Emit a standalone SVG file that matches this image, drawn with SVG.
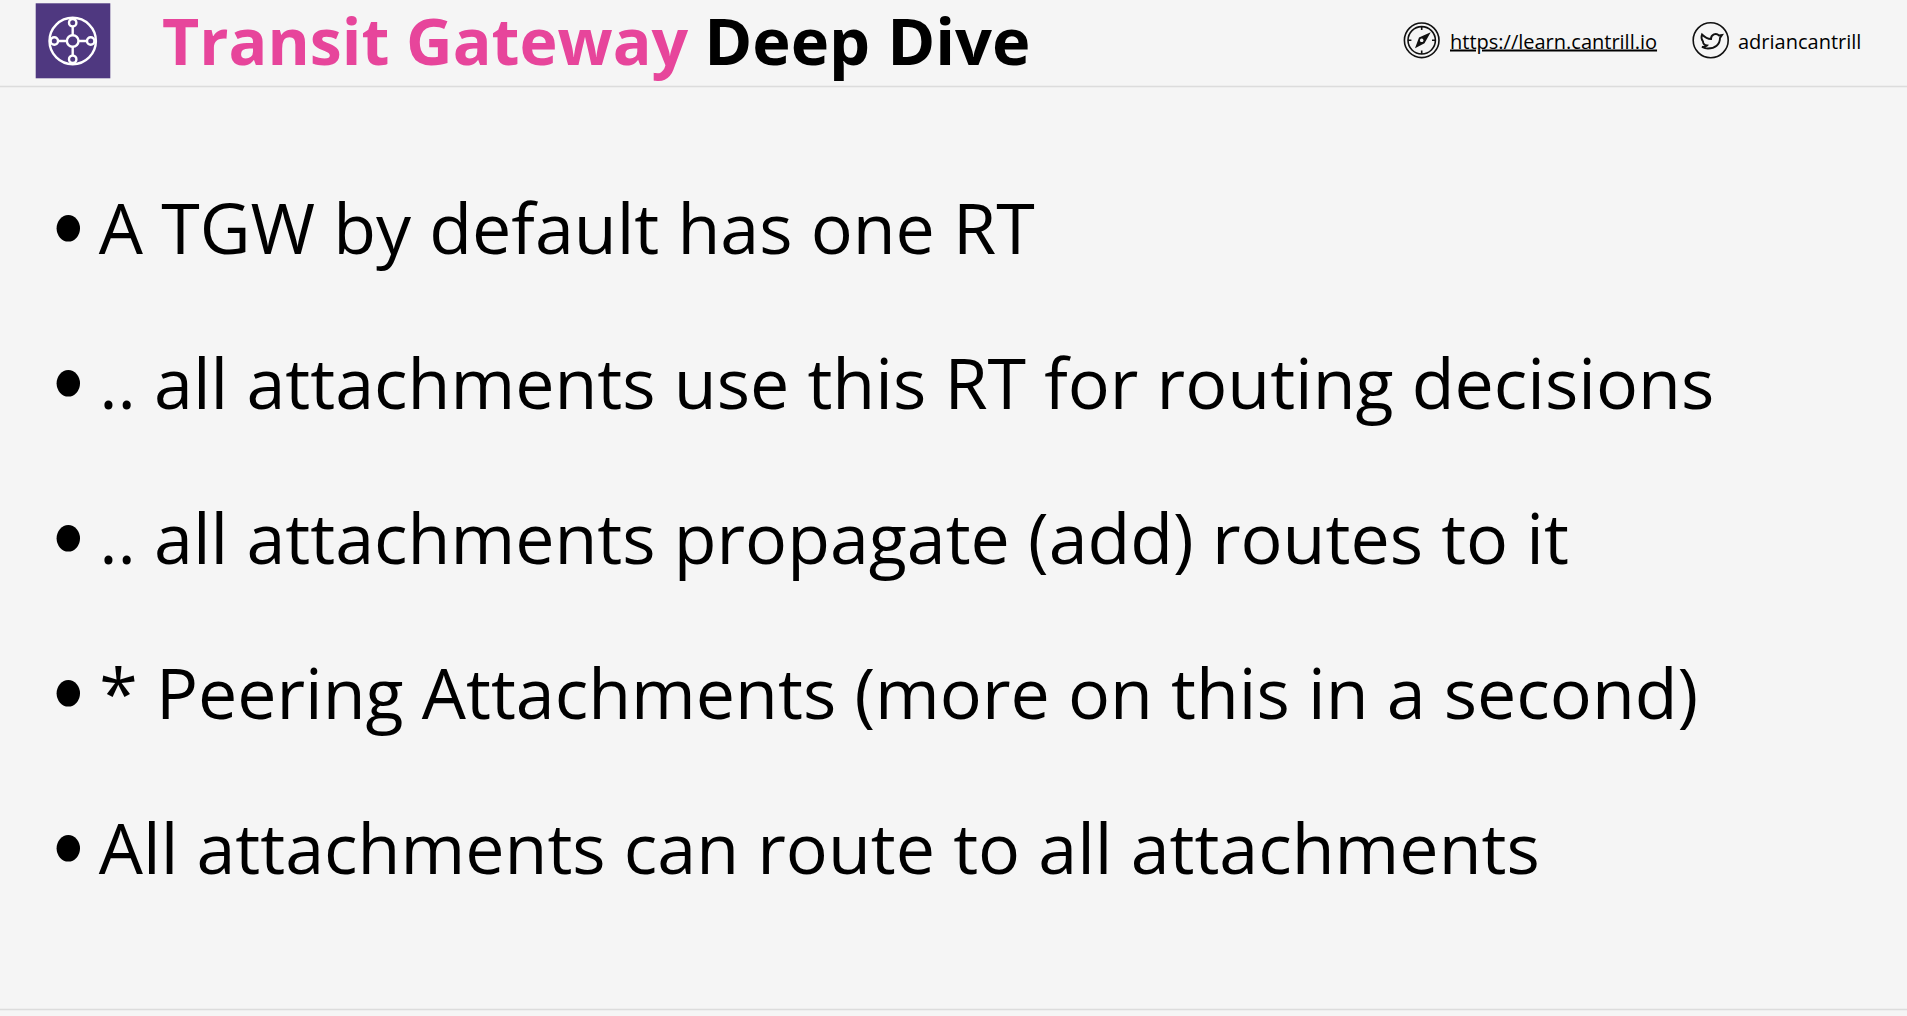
<svg xmlns="http://www.w3.org/2000/svg" width="1907" height="1016" viewBox="0 0 1907 1016">
<style>
text{font-family:"Open Sans","Noto Sans",sans-serif;fill:#000}
.b{font-size:69.95px}
.t{font-size:65px;font-weight:700}
.s{font-size:20px}
.w{fill:none;stroke:#fff;stroke-width:2.4}
.k{fill:none;stroke:#111;stroke-width:1.6}
.r{fill:none;stroke:#dcdcdc;stroke-width:1.6}
</style>
<rect width="1907" height="1016" fill="#f5f5f5"/>
<g id="header-rules"><line class="r" x1="0" y1="86.500" x2="1907" y2="86.500"/><line class="r" x1="0" y1="1009.500" x2="1907" y2="1009.500"/></g>
<g id="logo"><rect x="35.700" y="3.300" width="74.600" height="75" fill="#4f3880"/>
<circle class="w" cx="72.700" cy="41" r="23.200"/><circle class="w" cx="72.700" cy="41" r="5.800"/>
<circle class="w" cx="72.700" cy="22.700" r="3.700"/><circle class="w" cx="72.700" cy="59.300" r="3.700"/><circle class="w" cx="54.300" cy="41" r="3.700"/><circle class="w" cx="90.700" cy="41" r="3.700"/>
<path class="w" d="M72.700 26.500V35M72.700 47V55.500M58 41H67M78.500 41H87"/></g>
<g id="title"><text class="t" x="162" y="65" style="fill:#e7459b;font-size:64.4px">Transit Gateway</text><text class="t" x="704.200" y="65">Deep Dive</text></g>
<g id="link"><circle class="k" cx="1421.700" cy="40.300" r="17.300"/><circle class="k" cx="1421.700" cy="40.300" r="13.700"/>
<path class="k" d="M1421.700 26.600V30M1421.700 50.600V54M1408 40.300H1411.400M1432 40.300H1435.400"/>
<path d="M1430.700 32.300L1424.500 43.200L1415 48.300L1419 37.500ZM1421.700 38.500A1.800 1.800 0 1 0 1421.701 38.500Z" fill="#111" fill-rule="evenodd"/>
<text class="s" x="1450" y="48.500" text-decoration="underline">https://learn.cantrill.io</text></g>
<g id="twitter"><circle class="k" cx="1710.700" cy="40.300" r="17.500"/>
<path class="k" style="stroke-width:1.900" transform="translate(1 1.500)" d="M1701 33C1704 36 1707 37.500 1710 37.500C1710 33 1715 31 1718 34L1721 33.500L1719 36.500C1719 43 1714 47 1707 47C1705 47 1703 46.500 1701 45.500C1703 45.500 1705 45 1706 44C1703 43.500 1702 42 1702 40C1700.500 38 1700 35.500 1701 33Z"/>
<text class="s" x="1738" y="48.500">adriancantrill</text></g>
<g id="bullets">
<ellipse cx="68.300" cy="228.300" rx="11.700" ry="13.300"/><text class="b" x="98.800" y="254">A TGW by default has one RT</text>
<ellipse cx="68.300" cy="383.300" rx="11.700" ry="13.300"/><text class="b" x="99.200" y="409">.. all attachments use this RT for routing decisions</text>
<ellipse cx="68.300" cy="538.300" rx="11.700" ry="13.300"/><text class="b" x="99.200" y="564">.. all attachments propagate (add) routes to it</text>
<ellipse cx="68.300" cy="693.300" rx="11.700" ry="13.300"/><text class="b" x="99.200" y="719">* Peering Attachments (more on this in a second)</text>
<ellipse cx="68.300" cy="848.300" rx="11.700" ry="13.300"/><text class="b" x="98.800" y="874">All attachments can route to all attachments</text>
</g>
</svg>
